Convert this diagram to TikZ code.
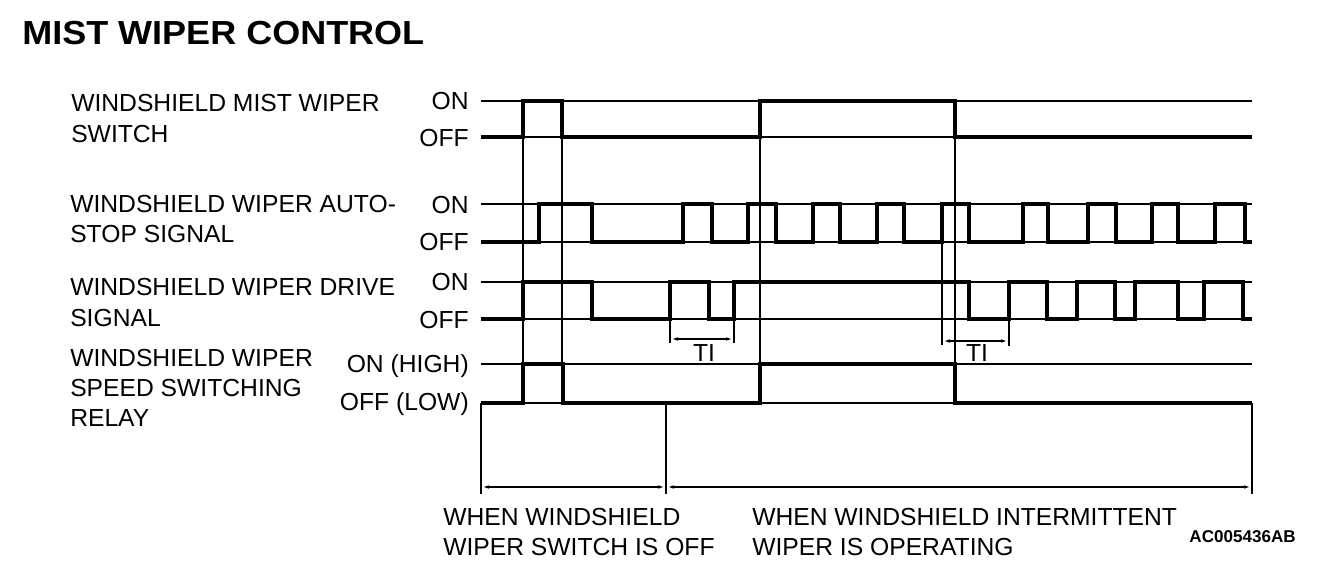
\documentclass[tikz,border=0pt]{standalone}
\usepackage{fontspec}
\setmainfont{Liberation Sans}
\newfontfamily\titlefont{Liberation Sans}[FakeStretch=1.08]
\usetikzlibrary{arrows.meta}
\begin{document}
\begin{tikzpicture}[x=0.75pt,y=-0.75pt,
  thinln/.style={line width=1.1pt},
  sig/.style={line width=2.8pt,line join=miter},
  frameln/.style={line width=1.6pt},
  dimln/.style={line width=1.1pt,{Latex[length=6pt,width=2.6pt]}-{Latex[length=6pt,width=2.6pt]}},
  lbl/.style={font=\fontsize{18.5}{22}\selectfont,inner sep=0pt,anchor=base west},
  st/.style={font=\fontsize{18.5}{22}\selectfont,inner sep=0pt,anchor=base east},
  tilbl/.style={font=\fontsize{18.5}{22}\selectfont,inner sep=0pt,anchor=base}]
\useasboundingbox[fill=white] (0,0) rectangle (1328,564);

% title
\node[inner sep=0pt,anchor=base west,font=\titlefont\bfseries\fontsize{25}{30}\selectfont] (title) at (22,44) {MIST WIPER CONTROL};

% left labels
\node[lbl] (m1) at (71,111) {WINDSHIELD MIST WIPER};
\node[lbl] (m2) at (71,142) {SWITCH};
\node[lbl] (a1) at (70,212) {WINDSHIELD WIPER AUTO-};
\node[lbl] (a2) at (70,242) {STOP SIGNAL};
\node[lbl] (d1) at (70,295) {WINDSHIELD WIPER DRIVE};
\node[lbl] (d2) at (70,326) {SIGNAL};
\node[lbl] (r1) at (70,366) {WINDSHIELD WIPER};
\node[lbl] (r2) at (70,396) {SPEED SWITCHING};
\node[lbl] (r3) at (70,426) {RELAY};

% state labels
\node[st] (mon) at (469,109) {ON};
\node[st] (moff) at (469,146) {OFF};
\node[st] (aon) at (469,213) {ON};
\node[st] (aoff) at (469,250) {OFF};
\node[st] (don) at (469,290) {ON};
\node[st] (doff) at (469,328) {OFF};
\node[st] (ron) at (469,372) {ON (HIGH)};
\node[st] (roff) at (469,410) {OFF (LOW)};

% thin reference lines
\foreach \yy in {101,137,204,242,282,319,364,403}
  \draw[thinln] (481,\yy) -- (1252,\yy);

% guide lines
\draw[thinln] (523,101) -- (523,403);
\draw[thinln] (562,137) -- (562,403);
\draw[thinln] (760,101) -- (760,403);
\draw[thinln] (955,101) -- (955,403);
\draw[thinln] (942,242) -- (942,345);
\draw[thinln] (670,319) -- (670,343);
\draw[thinln] (734,319) -- (734,343);
\draw[thinln] (1009,319) -- (1009,346);

% waveforms
\draw[sig] (481,137) -| (523,101) -| (562,137) -| (760,101) -| (955,137) -- (1252,137);
\draw[sig] (481,242) -| (539,204) -| (592,242) -| (683,204) -| (712,242) -| (748,204)
  -| (776,242) -| (813,204) -| (840,242) -| (877,204) -| (904,242) -| (942,204)
  -| (969,242) -| (1023,204) -| (1048,242) -| (1088,204) -| (1116,242) -| (1152,204)
  -| (1178,242) -| (1215,204) -| (1245,242) -- (1252,242);
\draw[sig] (481,319) -| (523,282) -| (592,319) -| (670,282) -| (709,319) -| (734,282)
  -| (969,319) -| (1009,282) -| (1047,319) -| (1077,282) -| (1115,319) -| (1135,282)
  -| (1178,319) -| (1204,282) -| (1243,319) -- (1252,319);
\draw[sig] (481,403) -| (523,364) -| (563,403) -| (760,364) -| (955,403) -- (1252,403);

% TI dimensions
\coordinate (t1a) at (670,339);
\coordinate (t1b) at (734,339);
\coordinate (t2a) at (942,341);
\coordinate (t2b) at (1009,341);
\draw[dimln] (t1a) -- (t1b);
\draw[dimln] (t2a) -- (t2b);
\node[tilbl] (ti1) at (704,361) {TI};
\node[tilbl] (ti2) at (977,361) {TI};

% bottom frame and dimensions
\draw[frameln] (481,403) -- (481,494);
\draw[frameln] (666,403) -- (666,494);
\draw[frameln] (1252,403) -- (1252,494);
\coordinate (b1) at (481,487);
\coordinate (b2) at (666,487);
\coordinate (b3) at (1252,487);
\draw[dimln] (b1) -- (b2);
\draw[dimln] (b2) -- (b3);

\node[lbl] (w1) at (443,525) {WHEN WINDSHIELD};
\node[lbl] (w2) at (443,555) {WIPER SWITCH IS OFF};
\node[lbl] (w3) at (752,525) {WHEN WINDSHIELD INTERMITTENT};
\node[lbl] (w4) at (752,555) {WIPER IS OPERATING};
\node[inner sep=0pt,anchor=base east,font=\bfseries\fontsize{12.8}{15}\selectfont] (code) at (1296,542) {AC005436AB};
\end{tikzpicture}
\end{document}
